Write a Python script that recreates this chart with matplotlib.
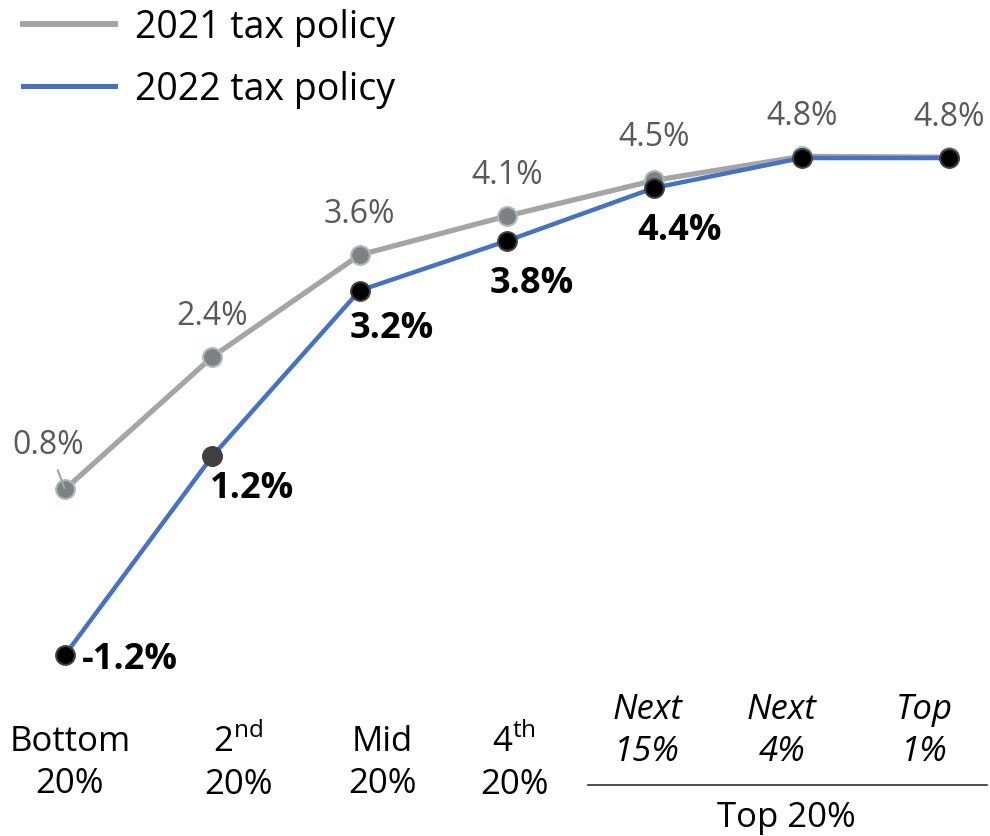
import matplotlib
matplotlib.use("Agg")
import matplotlib.pyplot as plt
from matplotlib.lines import Line2D

plt.rcParams["font.family"] = ["Open Sans", "DejaVu Sans"]
plt.rcParams["mathtext.fontset"] = "custom"
plt.rcParams["mathtext.rm"] = "Open Sans"

# ============================
# Datos
# ============================
groups = ["Bottom\n20%", "2$^{\\mathrm{nd}}$\n20%", "Mid\n20%", "4$^{\\mathrm{th}}$\n20%",
          "Next\n15%", "Next\n4%", "Top\n1%"]
policy_2021 = [0.8, 2.4, 3.63, 4.1, 4.53, 4.82, 4.81]
policy_2022 = [-1.2, 1.2, 3.2, 3.8, 4.44, 4.8, 4.8]
series_names = ["2021 tax policy", "2022 tax policy"]
top_group_label = "Top 20%"

GRAY = "#a5a5a5"
BLUE = "#4472c4"

fig = plt.figure(figsize=(9.9, 8.37), dpi=100)
ax = fig.add_axes([0, 0, 1, 1])
ax.set_xlim(-0.441, 6.278)
ax.set_ylim(-3.386, 6.72)
ax.axis("off")

x = list(range(len(groups)))

ax.plot(x, policy_2021, color=GRAY, lw=3.8, zorder=2,
        marker="o", ms=13.5, mfc="#808080", mec="#a3bcbc", mew=1.5)
ax.plot(x, policy_2022, color=BLUE, lw=3.2, zorder=3,
        marker="o", ms=13.5, mfc="black", mec="#404040", mew=1.5)
# el marcador del 2do quintil es gris oscuro en el original
ax.plot(x[1], policy_2022[1], "o", ms=13.5, mfc="#404040", mec="#404040", zorder=4)

# etiquetas 2021 (gris, arriba)
for i, v in enumerate(policy_2021):
    if i == 0:
        ax.annotate(f"{v:.1f}%", (i, v), xytext=(-17, 45), textcoords="offset pixels",
                    ha="center", va="center", fontsize=23, color="#595959",
                    arrowprops=dict(arrowstyle="-", color="#a5a5a5", lw=1.5,
                                    shrinkA=5, shrinkB=1))
    else:
        dy = 44 if i == 4 else 41
        ax.annotate(f"{v:.1f}%", (i, v), xytext=(0, dy), textcoords="offset pixels",
                    ha="center", va="center", fontsize=23, color="#595959")

# etiquetas 2022 (negrita, abajo a la derecha)
offsets_2022 = [(17, -4, "left"), (-2, -32, "left"), (32, -37, "center"),
                (25, -42, "center"), (25, -42, "center")]
for i, (dx, dy, ha) in enumerate(offsets_2022):
    v = policy_2022[i]
    ax.annotate(f"{v:.1f}%", (i, v), xytext=(dx, dy), textcoords="offset pixels",
                ha=ha, va="center", fontsize=26, fontweight="bold", color="black")

# etiquetas del eje x
label_dx = [5, 26, 23, 7, -7, -20, -25]
for i, lab in enumerate(groups):
    italic = i >= 4
    y_lab = 731 if italic else 763
    ax.annotate(lab, xy=(i, 0), xycoords=("data", "figure pixels"),
                xytext=(label_dx[i], 837 - y_lab), textcoords="offset pixels",
                ha="center", va="center", fontsize=25, linespacing=1.28,
                style="italic" if italic else "normal", color="black")

# linea del grupo top 20%
ax.annotate("", xy=(585, 837 - 786), xycoords="figure pixels",
            xytext=(990, 837 - 786), textcoords="figure pixels",
            arrowprops=dict(arrowstyle="-", color="#404040", lw=1.3))
ax.annotate(top_group_label, xy=(x[5], 0), xycoords=("data", "figure pixels"),
            xytext=(-15, 837 - 818), textcoords="offset pixels",
            ha="center", va="center", fontsize=25, color="black")

# leyenda
handles = [Line2D([0], [0], color=GRAY, lw=4.3), Line2D([0], [0], color=BLUE, lw=3.6)]
ax.legend(handles, series_names, loc="upper left", bbox_to_anchor=(-0.011, 1.03),
          frameon=False, fontsize=27, handlelength=2.45, handletextpad=0.55,
          labelspacing=0.65)

fig.savefig("out.png", dpi=100)
